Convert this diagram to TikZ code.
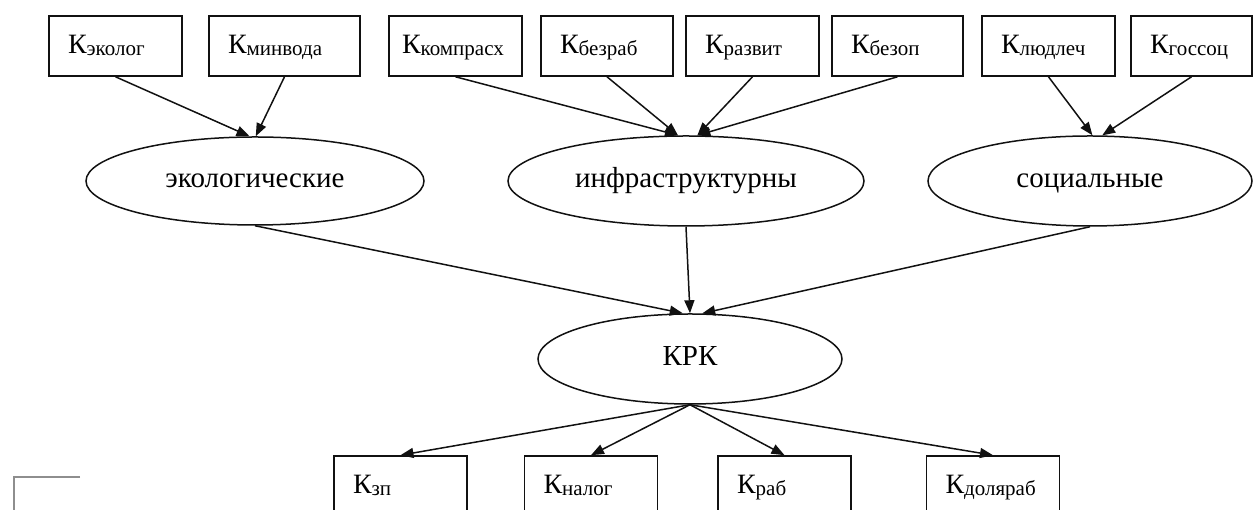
\documentclass[tikz,border=0pt]{standalone}
\usepackage{fontspec}
\setmainfont{Liberation Serif}
\usepackage{tikz}
\usetikzlibrary{arrows.meta,shapes.geometric}
\definecolor{INK}{HTML}{111111}
\definecolor{MARK}{HTML}{8E8E8E}
\newcommand{\Ksub}[1]{К\raisebox{-2pt}{\fontsize{21}{23}\selectfont #1}}

\begin{document}
\begin{tikzpicture}[x=1pt,y=1pt]
\tikzset{kbox/.style={draw=INK,line width=1.6pt,rectangle,minimum height=60pt,inner xsep=19pt,inner ysep=0pt,text width=#1,align=left,
  text height=20pt,text depth=5pt,font=\fontsize{28}{32}\selectfont},
 grp/.style={draw=INK,line width=1.5pt,ellipse,inner sep=0pt,text height=20pt,text depth=6pt,font=\fontsize{29}{33}\selectfont},
 arr/.style={-{Triangle[length=13pt,width=10pt]},line width=1.5pt,INK}}
\useasboundingbox (0,0) rectangle (1254,510);
% coefficients, top row
\foreach \n/\x/\w/\t in {kekolog/115.5/95/эколог,kminvoda/284.5/113/минвода,kbezrab/607/94/безраб,krazvit/752.5/95/развит,
  kbezop/897.5/93/безоп,kludlech/1048.5/95/людлеч,kgossoc/1191.5/83/госсоц}
 {\node[kbox=\w pt] (\n) at (\x,464) {\Ksub{\t}};}
\node[kbox=107pt,inner xsep=13pt] (kkomprasx) at (455.5,464) {\Ksub{компрасх}};
% groups
\node[grp,minimum width=338pt,minimum height=88pt] (eco) at (255,329) {экологические};
\node[grp,minimum width=356pt,minimum height=90pt] (infra) at (686,329) {инфраструктурны};
\node[grp,minimum width=324pt,minimum height=90pt] (soc) at (1090,329) {социальные};
\node[grp,minimum width=304pt,minimum height=90pt] (krk) at (690,151) {КРК};
% coefficients, bottom row
\foreach \n/\x/\t in {kzp/400.5/зп,knalog/591/налог,krab/784.5/раб,kdolyarab/993/доляраб}
 {\node[kbox=95pt] (\n) at (\x,24) {\Ksub{\t}};}
\foreach \a/\b in {kekolog/eco.97,kminvoda/eco.89,kkomprasx/infra.100,kbezrab/infra.100,krazvit/infra.76,kbezop/infra.76,
  kludlech/soc.87,kgossoc/soc.75,eco/krk.99,infra/krk.90,soc/krk.75}
 {\draw[arr] (\a.south) -- (\b);}
\foreach \b in {kzp,knalog,krab,kdolyarab}{\draw[arr] (krk.south) -- (\b.north);}
\draw[MARK,line width=2pt] (80,33) -- (14,33) -- (14,0);
\end{tikzpicture}
\end{document}
